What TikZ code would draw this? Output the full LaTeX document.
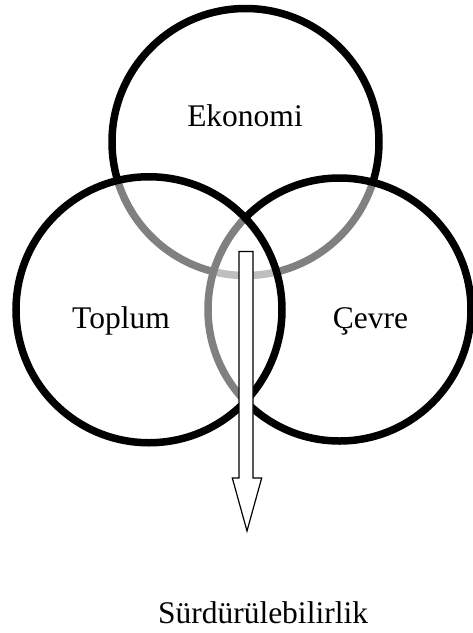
\documentclass[tikz,border=0pt]{standalone}
\usepackage{fontspec}
\setmainfont{Liberation Serif}
\begin{document}
\begin{tikzpicture}[x=1pt,y=-1pt,
  venn/.style={circle, draw=black, line width=7.5pt, fill=white, fill opacity=0.5, draw opacity=1, inner sep=0pt, minimum size=#1},
  lbl/.style={font=\fontsize{31.5}{36}\selectfont, anchor=base, inner sep=0pt},
  blockarrow/.style={draw=black, line width=1.2pt, fill=white, line join=miter}]
\useasboundingbox (0,0) rectangle (473,633);
% circles: drawn in order so that overlapped strokes appear grey
\node[venn=267pt] (eko) at (245.5,142) {};
\node[venn=263pt] (cev) at (339.5,309.5) {};
\node[venn=266pt] (top) at (149,309.75) {};
% block arrow
\coordinate (atop) at (246,251.5);
\coordinate (atip) at (247,531);
\draw[blockarrow] ([xshift=-7pt]atop) -- ([xshift=7pt]atop) -- (253,478) -- (261.7,478) -- (atip) -- (232.3,478) -- (239,478) -- cycle;
% labels
\node[lbl] (tEko) at (245,126) {Ekonomi};
\node[lbl] (tTop) at (121,328) {Toplum};
\node[lbl] (tCev) at (370.5,328) {Çevre};
\node[lbl] (tSur) at (263,623) {Sürdürülebilirlik};
\end{tikzpicture}
\end{document}
